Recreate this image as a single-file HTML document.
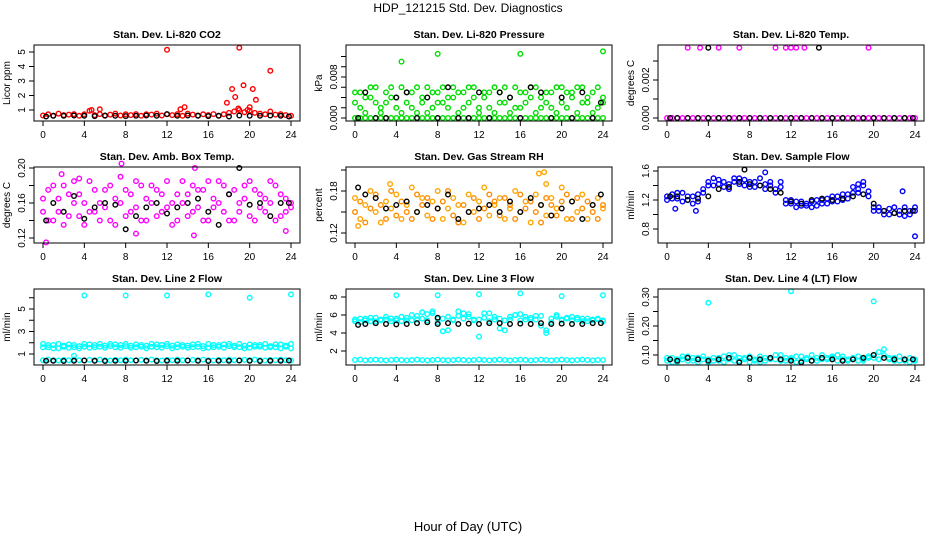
<!DOCTYPE html>
<html><head><meta charset="utf-8"><style>
html,body{margin:0;padding:0;background:#fff;}
svg{display:block;font-family:"Liberation Sans",sans-serif;}
</style></head><body>
<svg id="chart" width="936" height="540" viewBox="0 0 936 540" xmlns="http://www.w3.org/2000/svg">
<text x="468" y="12" text-anchor="middle" font-size="12">HDP_121215  Std. Dev. Diagnostics</text>
<text x="468" y="531" text-anchor="middle" font-size="13">Hour of Day (UTC)</text>
</svg>
<script>
const H49=[0,0.5,1,1.5,2,2.5,3,3.5,4,4.5,5,5.5,6,6.5,7,7.5,8,8.5,9,9.5,10,10.5,11,11.5,12,12.5,13,13.5,14,14.5,15,15.5,16,16.5,17,17.5,18,18.5,19,19.5,20,20.5,21,21.5,22,22.5,23,23.5,24];
const H25=[0.3,1,2,3,4,5,6,7,8,9,10,11,12,13,14,15,16,17,18,19,20,21,22,23,23.8];
const xTicks=[0,4,8,12,16,20,24];

const co2Red=[0.62,0.70,0.60,0.75,0.65,0.68,0.72,0.60,0.70,0.95,0.65,0.72,0.60,0.68,0.75,0.62,0.70,0.65,0.72,0.60,0.70,0.68,0.75,0.62,0.70,0.65,0.72,0.60,0.75,0.68,0.62,0.70,0.65,0.72,0.60,0.70,0.80,0.90,1.00,0.85,0.95,0.80,0.75,0.70,0.90,0.68,0.72,0.65,0.60];
const co2Black=[0.55,0.6,0.6,0.62,0.6,0.58,0.62,0.6,0.58,0.6,0.62,0.6,0.72,0.6,0.62,0.6,0.58,0.6,0.55,0.62,0.6,0.6,0.62,0.6,0.55];
const co2OutH=[4.7,5.5,12,13.3,13.7,17.8,18.3,18.6,19.0,19.4,20.0,20.3,20.6,22.0,18.9,19.8];
const co2OutV=[1.0,1.05,5.15,1.05,1.2,1.5,2.45,1.9,5.3,2.7,1.2,2.45,1.7,3.7,1.1,1.0];

const presGreen=[0.005,0.002,0.004,0.006,0.003,0.001,0.005,0.004,0.002,0.006,0.003,0.005,0.001,0.004,0.006,0.002,0.005,0.003,0.004,0.006,0.001,0.005,0.003,0.006,0.002,0.004,0.005,0.001,0.003,0.006,0.004,0.002,0.005,0.003,0.006,0.001,0.004,0.005,0.002,0.006,0.003,0.005,0.004,0.001,0.006,0.003,0.005,0.002,0.004];
const presGreen2=[0.003,0.005,0.001,0.004,0.006,0.002,0.003,0.006,0.004,0.001,0.005,0.002,0.006,0.003,0.001,0.005,0.003,0.006,0.002,0.004,0.005,0.002,0.006,0.004,0.001,0.005,0.002,0.006,0.005,0.003,0.001,0.006,0.002,0.005,0.004,0.006,0.002,0.003,0.005,0.001,0.006,0.002,0.005,0.006,0.003,0.004,0.001,0.006,0.003];
const presGreenZero=[0,0,0,0,0,0,0,0,0,0,0,0,0,0,0,0,0,0,0,0,0,0,0,0,0,0,0,0,0,0,0,0,0,0,0,0,0,0,0,0,0,0,0,0,0,0,0,0,0];
const presBlack=[0,0.005,0,0,0.004,0.005,0,0.004,0,0.006,0,0,0.005,0,0.005,0.004,0,0.006,0.005,0,0.004,0,0.005,0,0.003];
const presOutH=[4.5,8,16,24];
const presOutV=[0.011,0.0125,0.0125,0.013];

const tempMag=[0,0,0,0,0,0,0,0,0,0,0,0,0,0,0,0,0,0,0,0,0,0,0,0,0,0,0,0,0,0,0,0,0,0,0,0,0,0,0,0,0,0,0,0,0,0,0,0,0];
const tempBlack=[0,0,0,0,0,0,0,0,0,0,0,0,0,0,0,0,0,0,0,0,0,0,0,0,0];
const tempOutH=[2,3.2,5,7,10.5,11.5,12,12.5,13.3,19.5];
const tempOutV=[0.0037,0.0037,0.0037,0.0037,0.0037,0.0037,0.0037,0.0037,0.0037,0.0037];
const tempBlkOutH=[4,14.7];
const tempBlkOutV=[0.0037,0.0037];

const ambMag=[0.15,0.175,0.14,0.165,0.18,0.145,0.16,0.17,0.135,0.185,0.15,0.16,0.175,0.14,0.165,0.19,0.145,0.17,0.155,0.18,0.14,0.16,0.175,0.15,0.185,0.135,0.17,0.16,0.145,0.18,0.155,0.175,0.14,0.165,0.185,0.15,0.17,0.14,0.16,0.18,0.145,0.175,0.155,0.165,0.185,0.14,0.17,0.15,0.16];
const ambMag2=[0.165,0.14,0.18,0.15,0.135,0.17,0.185,0.145,0.16,0.15,0.175,0.14,0.155,0.18,0.135,0.16,0.175,0.15,0.185,0.14,0.165,0.18,0.145,0.17,0.155,0.16,0.14,0.185,0.17,0.15,0.175,0.14,0.185,0.155,0.16,0.18,0.14,0.175,0.15,0.165,0.185,0.14,0.17,0.15,0.16,0.18,0.145,0.165,0.155];
const ambBlack=[0.14,0.16,0.15,0.168,0.142,0.155,0.16,0.158,0.13,0.145,0.155,0.16,0.148,0.155,0.16,0.165,0.15,0.135,0.17,0.2,0.158,0.16,0.145,0.16,0.16];
const ambOutH=[0.3,7.6,14.7,9,14.6,23.5,1.8,3.5];
const ambOutV=[0.115,0.205,0.2,0.125,0.123,0.128,0.193,0.188];

const rhOrange=[0.17,0.14,0.16,0.18,0.15,0.135,0.165,0.155,0.175,0.14,0.16,0.185,0.15,0.17,0.145,0.165,0.18,0.14,0.155,0.17,0.16,0.135,0.175,0.15,0.165,0.185,0.145,0.16,0.17,0.14,0.155,0.18,0.15,0.165,0.135,0.175,0.16,0.145,0.17,0.155,0.185,0.14,0.165,0.15,0.175,0.14,0.16,0.17,0.155];
const rhOrange2=[0.15,0.165,0.135,0.155,0.175,0.16,0.14,0.18,0.145,0.165,0.15,0.14,0.175,0.16,0.17,0.14,0.155,0.165,0.18,0.145,0.135,0.16,0.15,0.17,0.14,0.155,0.175,0.165,0.145,0.17,0.16,0.14,0.175,0.155,0.165,0.15,0.135,0.17,0.16,0.145,0.165,0.175,0.14,0.17,0.155,0.165,0.15,0.14,0.16];
const rhBlack=[0.185,0.175,0.17,0.155,0.16,0.165,0.15,0.16,0.155,0.175,0.14,0.15,0.155,0.16,0.15,0.165,0.15,0.17,0.16,0.145,0.155,0.165,0.14,0.16,0.175];
const rhOutH=[17.8,18.3,0.3,3.4,18.5];
const rhOutV=[0.205,0.207,0.13,0.19,0.19];

const flowBlue=[1.25,1.28,1.22,1.3,1.2,1.25,1.18,1.3,1.45,1.4,1.48,1.38,1.42,1.45,1.5,1.4,1.45,1.38,1.5,1.42,1.4,1.35,1.45,1.2,1.15,1.18,1.12,1.15,1.1,1.2,1.15,1.22,1.18,1.25,1.2,1.28,1.3,1.35,1.4,1.32,1.1,1.05,1.0,1.08,1.02,1.05,1.1,1.0,1.05];
const flowBlue2=[1.2,1.22,1.3,1.18,1.25,1.15,1.28,1.35,1.4,1.5,1.42,1.45,1.35,1.5,1.42,1.48,1.38,1.45,1.4,1.35,1.45,1.3,1.38,1.15,1.2,1.1,1.18,1.12,1.18,1.12,1.2,1.15,1.25,1.18,1.28,1.22,1.38,1.3,1.45,1.25,1.05,1.1,1.05,1.0,1.1,1.0,0.98,1.05,1.1];
const flowBlack=[1.25,1.25,1.2,1.22,1.25,1.35,1.38,1.45,1.42,1.4,1.35,1.3,1.18,1.15,1.2,1.22,1.2,1.22,1.25,1.28,1.15,1.05,1.02,1.05,1.05];
const flowOutH=[9.5,24,0.8,2.8,18.5,22.8];
const flowOutV=[1.58,0.7,1.08,1.05,1.42,1.32];
const flowBlkOutH=[7.5];
const flowBlkOutV=[1.62];

const l2Cyan=[1.9,1.6,1.8,1.5,1.75,1.85,1.6,1.7,1.9,1.55,1.8,1.65,1.75,1.9,1.6,1.8,1.7,1.55,1.85,1.65,1.75,1.9,1.6,1.8,1.7,1.5,1.85,1.65,1.75,1.6,1.9,1.7,1.55,1.8,1.65,1.85,1.7,1.6,1.9,1.75,1.55,1.8,1.65,1.9,1.7,1.6,1.85,1.75,1.5];
const l2Cyan2=[1.6,1.8,1.5,1.9,1.65,1.55,1.8,1.5,1.65,1.85,1.6,1.9,1.55,1.7,1.85,1.55,1.9,1.75,1.6,1.8,1.5,1.65,1.85,1.55,1.9,1.75,1.6,1.8,1.55,1.85,1.65,1.5,1.9,1.6,1.8,1.55,1.9,1.75,1.6,1.5,1.85,1.65,1.8,1.55,1.6,1.85,1.5,1.65,1.9];
const l2CyanLow=[0.45,0.5,0.45,0.42,0.48,0.45,0.5,0.45,0.42,0.48,0.45,0.5,0.45,0.42,0.48,0.45,0.5,0.45,0.42,0.48,0.45,0.5,0.45,0.42,0.48,0.45,0.5,0.45,0.42,0.48,0.45,0.5,0.45,0.42,0.48,0.45,0.5,0.45,0.42,0.48,0.45,0.5,0.45,0.42,0.48,0.45,0.5,0.45,0.42];
const l2Black=[0.4,0.4,0.38,0.4,0.42,0.4,0.38,0.4,0.4,0.42,0.4,0.38,0.4,0.4,0.42,0.4,0.38,0.4,0.4,0.42,0.4,0.38,0.4,0.4,0.42];
const l2OutH=[4,8,12,16,20,24,3];
const l2OutV=[6.2,6.2,6.2,6.3,6.0,6.3,0.85];

const l3Cyan=[5.5,5.2,5.6,5.3,5.7,5.4,5.5,5.3,5.6,5.8,5.4,6.0,5.5,6.3,6.1,6.4,5.2,5.6,4.3,5.4,6.4,6.2,5.8,5.5,3.6,6.2,5.3,5.5,4.5,5.4,5.8,6.0,6.1,5.5,5.7,5.9,4.8,4.3,5.2,5.8,5.4,5.6,5.8,5.5,5.3,5.6,5.4,5.5,5.3];
const l3Cyan2=[5.3,5.6,5.4,5.7,5.3,5.5,5.8,5.6,5.4,5.3,5.7,5.4,5.9,5.6,5.4,6.2,5.6,4.2,5.8,5.5,5.9,5.6,6.1,5.4,5.5,5.7,6.2,5.8,5.6,4.3,5.5,6.0,5.4,5.8,5.5,5.5,5.9,4.0,5.6,6.0,5.5,5.7,5.4,5.7,5.6,5.3,5.5,5.6,5.4];
const l3CyanLow=[1.0,1.05,0.95,1.0,1.05,1.0,0.95,1.0,1.05,1.0,0.95,1.0,1.05,1.0,0.95,1.0,1.05,1.0,0.95,1.0,1.05,1.0,0.95,1.0,1.05,1.0,0.95,1.0,1.05,1.0,0.95,1.0,1.05,1.0,0.95,1.0,1.05,1.0,0.95,1.0,1.05,1.0,0.95,1.0,1.05,1.0,0.95,1.0,1.0];
const l3Black=[4.9,5.0,5.1,5.0,4.95,5.0,5.1,5.2,5.0,5.1,5.0,5.05,5.0,5.1,5.1,5.0,5.05,5.0,5.1,5.0,5.05,5.0,5.0,5.1,5.1];
const l3OutH=[4,8,12,16,20,24];
const l3OutV=[8.2,8.2,8.3,8.4,8.1,8.2];
const l3BlkOutH=[8];
const l3BlkOutV=[5.7];

const l4Cyan=[0.08,0.09,0.075,0.085,0.095,0.08,0.09,0.085,0.075,0.09,0.08,0.095,0.085,0.1,0.08,0.09,0.075,0.085,0.095,0.08,0.09,0.085,0.1,0.08,0.09,0.075,0.095,0.085,0.08,0.09,0.1,0.085,0.09,0.08,0.095,0.085,0.09,0.08,0.085,0.095,0.09,0.11,0.1,0.085,0.09,0.08,0.085,0.09,0.08];
const l4Cyan2=[0.09,0.075,0.085,0.095,0.08,0.09,0.075,0.095,0.085,0.08,0.09,0.075,0.1,0.08,0.09,0.085,0.095,0.08,0.075,0.09,0.085,0.1,0.08,0.09,0.085,0.095,0.08,0.09,0.1,0.08,0.085,0.09,0.095,0.1,0.085,0.08,0.09,0.095,0.08,0.09,0.1,0.085,0.12,0.09,0.08,0.095,0.08,0.075,0.085];
const l4Black=[0.085,0.08,0.09,0.085,0.08,0.085,0.09,0.075,0.09,0.085,0.09,0.085,0.08,0.075,0.08,0.09,0.085,0.08,0.085,0.09,0.1,0.09,0.085,0.085,0.085];
const l4OutH=[4,12,20];
const l4OutV=[0.28,0.32,0.285];

const titles=["Stan. Dev. Li-820 CO2","Stan. Dev. Li-820 Pressure","Stan. Dev. Li-820 Temp.","Stan. Dev. Amb. Box Temp.","Stan. Dev. Gas Stream RH","Stan. Dev. Sample Flow","Stan. Dev. Line 2 Flow","Stan. Dev. Line 3 Flow","Stan. Dev. Line 4 (LT) Flow"];
const yTitles=["Licor ppm","kPa","degrees C","degrees C","percent","ml/min","ml/min","ml/min","ml/min"];
const yTickVals=[[1,2,3,4,5],[0,0.002,0.004,0.006,0.008,0.010,0.012],[0,0.001,0.002,0.003],[0.12,0.14,0.16,0.18,0.20],[0.12,0.15,0.18,0.21],[0.8,1.0,1.2,1.4,1.6],[1,2,3,4,5,6],[2,4,6,8],[0.10,0.15,0.20,0.25,0.30]];
const yTickLabels=[["1","2","3","4","5"],["0.000","","","","0.008","",""],["0.000","","0.002",""],["0.12","","0.16","","0.20"],["0.12","","0.18",""],["0.8","","1.2","","1.6"],["1","","3","","5",""],["2","4","6","8"],["0.10","","0.20","","0.30"]];
const yA=[[1,110,5,52],[0,118,0.008,77],[0,118,0.002,80],[0.12,238,0.20,168],[0.12,233,0.18,191],[0.8,229,1.6,171],[1,354,5,309],[2,351,8,297],[0.10,355,0.30,297]];

const NS="http://www.w3.org/2000/svg";
const svg=document.getElementById('chart');
function mk(tag,attrs,parent){const e=document.createElementNS(NS,tag);for(const k in attrs)e.setAttribute(k,attrs[k]);(parent||svg).appendChild(e);return e;}

const panels=[
 {s:[[H49,co2Red,'#ff0000'],[H25,co2Black,'#000'],[co2OutH,co2OutV,'#ff0000']]},
 {s:[[H49,presGreen,'#00dd00'],[H49,presGreen2,'#00dd00'],[H49,presGreenZero,'#00dd00'],[H25,presBlack,'#000'],[presOutH,presOutV,'#00dd00']]},
 {s:[[H49,tempMag,'#ff00ff'],[H25,tempBlack,'#000'],[tempOutH,tempOutV,'#ff00ff'],[tempBlkOutH,tempBlkOutV,'#000']]},
 {s:[[H49,ambMag,'#ff00ff'],[H49,ambMag2,'#ff00ff'],[ambOutH,ambOutV,'#ff00ff'],[H25,ambBlack,'#000']]},
 {s:[[H49,rhOrange,'#ffa500'],[H49,rhOrange2,'#ff8c00'],[rhOutH,rhOutV,'#ffa500'],[H25,rhBlack,'#000']]},
 {s:[[H49,flowBlue,'#0000ff'],[H49,flowBlue2,'#0000ff'],[flowOutH,flowOutV,'#0000ff'],[H25,flowBlack,'#000'],[flowBlkOutH,flowBlkOutV,'#000']]},
 {s:[[H49,l2Cyan,'#00ffff'],[H49,l2Cyan2,'#00ffff'],[H49,l2CyanLow,'#00ffff'],[l2OutH,l2OutV,'#00ffff'],[H25,l2Black,'#000']]},
 {s:[[H49,l3Cyan,'#00ffff'],[H49,l3Cyan2,'#00ffff'],[H49,l3CyanLow,'#00ffff'],[l3OutH,l3OutV,'#00ffff'],[H25,l3Black,'#000'],[l3BlkOutH,l3BlkOutV,'#000']]},
 {s:[[H49,l4Cyan,'#00ffff'],[H49,l4Cyan2,'#00ffff'],[l4OutH,l4OutV,'#00ffff'],[H25,l4Black,'#000']]}
];

panels.forEach((p,i)=>{
  const c=i%3, r=Math.floor(i/3);
  const bx=34+312*c, by=45+122*r, bw=266, bh=76;
  const xs=t=>43+312*c+t*(248/24);
  const a=yA[i];
  const ys=v=>a[1]+(v-a[0])*(a[3]-a[1])/(a[2]-a[0]);
  const g=mk('g',{});
  
  
  const t=mk('text',{x:bx+bw/2,y:by-7,'text-anchor':'middle','font-size':'10.5','font-weight':'bold'},g);
  t.textContent=titles[i];
  
  
  const yt=mk('text',{x:bx-24,y:by+bh/2,'text-anchor':'middle','font-size':'10',transform:`rotate(-90 ${bx-24} ${by+bh/2})`},g);
  yt.textContent=yTitles[i];
  
  
  const xa=mk('g',{},g);
  
  
  xTicks.forEach(v=>{
    mk('line',{x1:xs(v),x2:xs(v),y1:by+bh,y2:by+bh+5,stroke:'#000','stroke-width':1},xa);
    const l=mk('text',{x:xs(v),y:by+bh+17,'text-anchor':'middle','font-size':'10'},xa);
    l.textContent=String(v);
  });
  const ya=mk('g',{},g);
  
  
  yTickVals[i].forEach((v,k)=>{
    const y=ys(v);
    mk('line',{x1:bx-5,x2:bx,y1:y,y2:y,stroke:'#000','stroke-width':1},ya);
    if(yTickLabels[i][k]){
      const l=mk('text',{x:bx-9,y:y,'text-anchor':'middle','font-size':'10',transform:`rotate(-90 ${bx-9} ${y})`},ya);
      l.textContent=yTickLabels[i][k];
    }
  });
  const pts=mk('g',{fill:'none','stroke-width':1.4},g);
  
  
  p.s.forEach(([hs,vs,col])=>{
    const n=Math.min(hs.length,vs.length);
    for(let k=0;k<n;k++){
      const cc=mk('circle',{cx:xs(hs[k]).toFixed(1),cy:ys(vs[k]).toFixed(1),r:2.3,stroke:col},pts);
      
      
    }
  });
  const box=mk('rect',{x:bx,y:by,width:bw,height:bh,fill:'none',stroke:'#000','stroke-width':1},g);
  
  
});
</script>
</body></html>
